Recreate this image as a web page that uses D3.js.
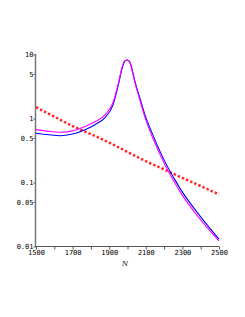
<!DOCTYPE html>
<html>
<head>
<meta charset="utf-8">
<script src="https://cdn.jsdelivr.net/npm/d3@7"></script>
<style>
  body { margin: 0; background: #fff; }
  svg { display: block; }
  .tick text { font-family: "DejaVu Sans Mono", monospace; font-size: 7px; fill: #000; }
</style>
</head>
<body>
<svg id="chart" width="245" height="317"></svg>
<script>
// values
var nCurve = [1500,1570,1631,1700,1768,1822,1877,1921,1950,1970,1985,1999,2015,2025,2041,2068,2096,2139,2205,2260,2287,2400,2500];
var blueVals = [0.587,0.556,0.539,0.573,0.67,0.8,1.03,1.63,3.34,6.0,7.8,8.2,7.4,5.9,3.76,2.07,1.13,0.55,0.21,0.109,0.081,0.029,0.013];
var magentaVals = [0.67,0.63,0.61,0.64,0.75,0.89,1.14,1.78,3.55,6.3,8.0,8.2,7.2,5.6,3.6,1.93,1.03,0.49,0.187,0.097,0.072,0.026,0.0122];
var nRed = [1500,1600,1700,1800,1900,2000,2100,2200,2300,2400,2500];
var redVals = [1.5,1.07,0.76,0.57,0.42,0.3,0.215,0.16,0.118,0.088,0.065];
var yTicks = [0.01,0.05,0.1,0.5,1,5,10];
var yTickLabels = ["0.01","0.05","0.1","0.5","1","5","10"];
var xTicks = [1500,1600,1700,1800,1900,2000,2100,2200,2300,2400,2500];
var xLabel = "N";

var svg = d3.select("#chart");

var x = d3.scaleLinear().domain([1500, 2500]).range([36, 219]);
var y = d3.scaleLog().domain([0.01, 10]).range([246.5, 54.5]);

// axes
var yAxis = svg.append("g")
    .attr("transform", "translate(35.5,0)")
    .call(d3.axisLeft(y)
      .tickValues(yTicks)
      .tickSize(2)
      .tickPadding(0)
      .tickFormat(function(d, i) { return yTickLabels[i]; }));
yAxis.select(".domain").attr("stroke", "#777").attr("stroke-width", 1.5).attr("d", "M0,54V246.5");
yAxis.selectAll(".tick line").attr("stroke", "#555");

var xAxis = svg.append("g")
    .attr("transform", "translate(0,246.5)")
    .call(d3.axisBottom(x)
      .tickValues(xTicks)
      .tickSize(3)
      .tickPadding(1)
      .tickFormat(function(d) { return (d - 1500) % 200 == 0 ? d : ""; }));
xAxis.select(".domain").attr("stroke", "#555").attr("stroke-width", 1).attr("d", "M35,0H219");
xAxis.selectAll(".tick line").attr("stroke", "#555");

svg.append("text")
   .attr("x", 125)
   .attr("y", 266)
   .attr("text-anchor", "middle")
   .style("font-family", "DejaVu Serif, serif")
   .style("font-style", "italic")
   .style("font-size", "7px")
   .text(xLabel);

// curves
var line = d3.line()
    .x(function(d) { return x(d[0]); })
    .y(function(d) { return y(d[1]); })
    .curve(d3.curveMonotoneX);

svg.append("path")
   .datum(nRed.map(function(n, i) { return [n, redVals[i]]; }))
   .attr("d", line)
   .attr("fill", "none")
   .attr("stroke", "#ff2a2a")
   .attr("stroke-width", 2.5)
   .attr("stroke-dasharray", "2.5,2");

svg.append("path")
   .datum(nCurve.map(function(n, i) { return [n, blueVals[i]]; }))
   .attr("d", line)
   .attr("fill", "none")
   .attr("stroke", "#0000ff")
   .attr("stroke-width", 1.1);

svg.append("path")
   .datum(nCurve.map(function(n, i) { return [n, magentaVals[i]]; }))
   .attr("d", line)
   .attr("fill", "none")
   .attr("stroke", "#ff00ff")
   .attr("stroke-width", 1.1);
</script>
</body>
</html>
